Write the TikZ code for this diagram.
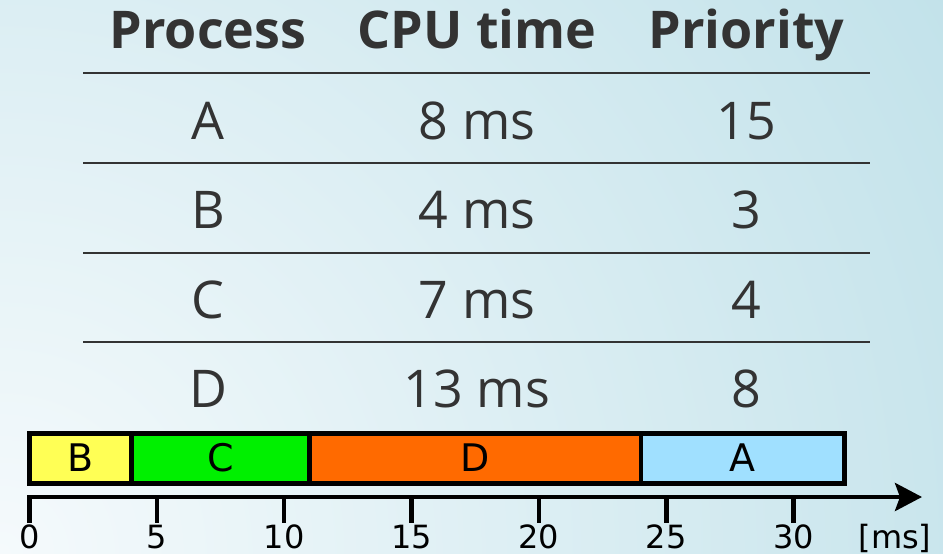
\documentclass[tikz,border=0pt]{standalone}
\usepackage{fontspec}
\newfontfamily\tablefont{Open Sans}
\newfontfamily\chartfont{DejaVu Sans}
\usetikzlibrary{arrows.meta}

\definecolor{bgblue}{HTML}{C2E2EA}
\definecolor{bgpale}{HTML}{F5FAFC}
\definecolor{ink}{HTML}{333333}
\definecolor{segB}{HTML}{FFFF55}
\definecolor{segC}{HTML}{00F000}
\definecolor{segD}{HTML}{FF6A00}
\definecolor{segA}{HTML}{A0E0FF}

\tikzset{
  head/.style={font=\tablefont\fontsize{52pt}{60pt}\selectfont\bfseries, text=ink, anchor=base, inner sep=0pt},
  cell/.style={font=\tablefont\fontsize{52pt}{60pt}\selectfont, text=ink, anchor=base, inner sep=0pt},
  rowrule/.style={draw=ink, line width=2pt},
  seglabel/.style={font=\chartfont\fontsize{38pt}{44pt}\selectfont, text=black, anchor=base, inner sep=0pt},
  ticklabel/.style={font=\chartfont\fontsize{32pt}{36pt}\selectfont, text=black, anchor=base, inner sep=0pt},
  thick black/.style={draw=black, line width=4.5pt},
}

\begin{document}
\begin{tikzpicture}[x=1pt, y=-1pt]
  % background: radial glow from the lower left corner
  \useasboundingbox (0,0) rectangle (943,554);
  \begin{scope}
    \clip (0,0) rectangle (943,554);
    \shade[inner color=bgpale, outer color=bgblue] (0,554) circle[radius=1100pt];
  \end{scope}

  % table header
  \node[head] (hproc) at (208,48.3) {Process};
  \node[head] (hcpu)  at (477,48.3) {CPU time};
  \node[head] (hprio) at (746.5,48.3) {Priority};

  % row separators
  \coordinate (r1l) at (83,73.3);  \coordinate (r1r) at (870,73.3);
  \coordinate (r2l) at (83,163);   \coordinate (r2r) at (870,163);
  \coordinate (r3l) at (83,252.5); \coordinate (r3r) at (870,252.5);
  \coordinate (r4l) at (83,342);   \coordinate (r4r) at (870,342);
  \draw[rowrule] (r1l) -- (r1r);
  \draw[rowrule] (r2l) -- (r2r);
  \draw[rowrule] (r3l) -- (r3r);
  \draw[rowrule] (r4l) -- (r4r);

  % table rows
  \node[cell] (pa) at (208,139)   {A};
  \node[cell] (ta) at (477,139)   {8 ms};
  \node[cell] (qa) at (746.5,139) {15};
  \node[cell] (pb) at (208,228.6)   {B};
  \node[cell] (tb) at (477,228.6)   {4 ms};
  \node[cell] (qb) at (746.5,228.6) {3};
  \node[cell] (pc) at (208,318.2)   {C};
  \node[cell] (tc) at (477,318.2)   {7 ms};
  \node[cell] (qc) at (746.5,318.2) {4};
  \node[cell] (pd) at (208,407.8)   {D};
  \node[cell] (td) at (477,407.8)   {13 ms};
  \node[cell] (qd) at (746.5,407.8) {8};

  % schedule bar (1 ms = 25.47pt, origin at x = 29.5)
  \fill[segB] (29.5,433.5) rectangle (131.4,483.5);
  \fill[segC] (131.4,433.5) rectangle (309.7,483.5);
  \fill[segD] (309.7,433.5) rectangle (640.8,483.5);
  \fill[segA] (640.8,433.5) rectangle (844.5,483.5);
  \draw[thick black] (131.4,433.5) -- (131.4,483.5);
  \draw[thick black] (309.7,433.5) -- (309.7,483.5);
  \draw[thick black] (640.8,433.5) -- (640.8,483.5);
  \draw[thick black] (29.5,433.5) rectangle (844.5,483.5);

  \node[seglabel] (lb) at (80.5,471.5)  {B};
  \node[seglabel] (lc) at (220.5,471.5) {C};
  \node[seglabel] (ld) at (475.3,471.5) {D};
  \node[seglabel] (la) at (742.7,471.5) {A};

  % time axis
  \coordinate (origin) at (29.5,523);
  \coordinate (corner) at (29.5,497);
  \coordinate (tip)    at (922,497);
  \draw[thick black, line join=miter, -{Stealth[length=27pt, width=28pt, inset=5pt]}]
    (origin) -- (corner) -- (tip);

  \foreach \t/\x in {5/156.9, 10/284.2, 15/411.6, 20/538.9, 25/666.3, 30/793.6} {
    \coordinate (tk\t) at (\x,497);
    \coordinate (tb\t) at (\x,523);
    \draw[thick black] (tk\t) -- (tb\t);
  }
  \foreach \t/\x in {0/29.5, 5/156.9, 10/284.2, 15/411.6, 20/538.9, 25/666.3, 30/793.6} {
    \node[ticklabel] (n\t) at (\x,548.5) {\t};
  }
  \node[ticklabel] (unit) at (895,548.5) {[ms]};
\end{tikzpicture}
\end{document}
